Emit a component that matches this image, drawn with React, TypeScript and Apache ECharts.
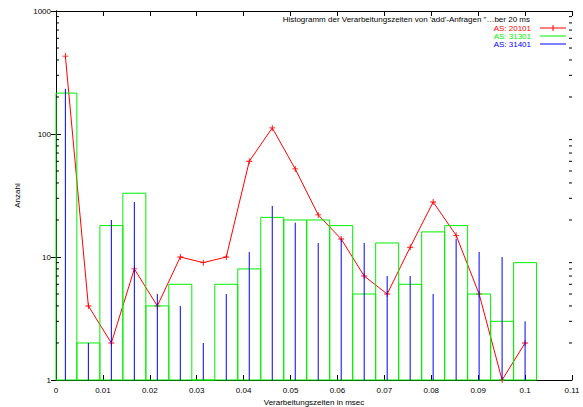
import React, { useEffect, useRef } from "react";
import * as echarts from "echarts";

// bin centres (msec)
const binCenters = [
  0.002, 0.0069, 0.0118, 0.0167, 0.0216, 0.0265, 0.0314, 0.0363, 0.0412, 0.0461,
  0.051, 0.0559, 0.0608, 0.0657, 0.0706, 0.0755, 0.0804, 0.0853, 0.0902, 0.0951, 0.1,
];
const binWidth = 0.0049;

// counts per AS
const as20101 = [430, 4, 2, 8, 4, 10, 9, 10, 60, 112, 52, 22, 14, 7, 5, 12, 28, 15, 5, 1, 2];
const as31301 = [215, 2, 18, 33, 4, 6, 1, 6, 8, 21, 20, 20, 18, 5, 13, 6, 16, 18, 5, 3, 9];
const as31401 = [233, 2, 20, 28, 5, 4, 2, 5, 11, 26, 19, 13, 14, 13, 7, 7, 5, 14, 11, 10, 3];

const seriesNames = ["AS: 20101", "AS: 31301", "AS: 31401"];
const seriesColors = ["#ff0000", "#00f000", "#0000ff"];
const titleText = "Histogramm der Verarbeitungszeiten von 'add'-Anfragen \"\u2026ber 20 ms";
const xAxisTitle = "Verarbeitungszeiten in msec";
const yAxisTitle = "Anzahl";
const yMinorTicks = [2, 3, 4, 5, 6, 7, 8, 9, 20, 30, 40, 50, 60, 70, 80, 90, 200, 300, 400, 500, 600, 700, 800, 900];

const FONT = "'Liberation Sans', Arial, Helvetica, sans-serif";

export default function App() {
  const ref = useRef<HTMLDivElement>(null);
  useEffect(() => {
    const chart = echarts.init(ref.current!, null, { renderer: "svg" });
    const axisLine = { show: true, lineStyle: { color: "#000", width: 1 } };
    const axisTick = { show: true, inside: true, length: 5, lineStyle: { color: "#000", width: 1 } };
    const legendRows = [28, 36, 44];
    const legendGraphics: any[] = [
      {
        type: "text",
        x: 530,
        y: 19,
        style: { text: titleText, fill: "#000", fontSize: 8, fontFamily: FONT, align: "right", verticalAlign: "middle" },
      },
    ];
    seriesNames.forEach((n, i) => {
      const c = seriesColors[i];
      legendGraphics.push({
        type: "text",
        x: 531,
        y: legendRows[i],
        style: { text: n, fill: c, fontSize: 8, fontFamily: FONT, align: "right", verticalAlign: "middle" },
      });
      legendGraphics.push({
        type: "line",
        shape: { x1: 540, y1: legendRows[i], x2: 566, y2: legendRows[i] },
        style: { stroke: c, lineWidth: 1 },
      });
    });
    legendGraphics.push({
      type: "line",
      shape: { x1: 553, y1: legendRows[0] - 3, x2: 553, y2: legendRows[0] + 3 },
      style: { stroke: seriesColors[0], lineWidth: 1 },
    });

    const option: any = {
      animation: false,
      backgroundColor: "#fff",
      textStyle: { fontFamily: FONT },
      grid: { left: 56, right: 11, top: 11, bottom: 27, containLabel: false, outerBoundsMode: "none" },
      xAxis: [
        {
          type: "value",
          min: 0,
          max: 0.11,
          interval: 0.01,
          position: "bottom",
          axisLine,
          axisTick,
          splitLine: { show: false },
          axisLabel: {
            fontSize: 8,
            color: "#000",
            fontFamily: FONT,
            margin: 6,
            formatter: (v: number) => String(+v.toFixed(3)),
          },
          name: xAxisTitle,
          nameLocation: "middle",
          nameGap: 16,
          nameTextStyle: { fontSize: 8, color: "#000", fontFamily: FONT },
        },
        {
          type: "value",
          min: 0,
          max: 0.11,
          interval: 0.01,
          position: "top",
          axisLine,
          axisTick,
          splitLine: { show: false },
          axisLabel: { show: false },
        },
      ],
      yAxis: [
        {
          type: "log",
          logBase: 10,
          min: 1,
          max: 1000,
          axisLine,
          axisTick,
          splitLine: { show: false },
          axisLabel: {
            fontSize: 8,
            color: "#000",
            fontFamily: FONT,
            margin: 5,
            formatter: (v: number) => String(Math.round(v)),
          },
          name: yAxisTitle,
          nameLocation: "middle",
          nameGap: 35,
          nameRotate: 90,
          nameTextStyle: { fontSize: 8, color: "#000", fontFamily: FONT },
        },
        {
          type: "log",
          logBase: 10,
          min: 1,
          max: 1000,
          position: "right",
          axisLine,
          axisTick,
          splitLine: { show: false },
          axisLabel: { show: false },
        },
      ],
      graphic: legendGraphics,
      series: [
        {
          name: seriesNames[0],
          type: "line",
          data: binCenters.map((x, i) => [x, as20101[i]]),
          lineStyle: { color: seriesColors[0], width: 1 },
          itemStyle: { color: seriesColors[0] },
          symbol: "path://M3,0H4V7H3ZM0,3H7V4H0Z",
          symbolSize: 6,
          z: 2,
        },
        {
          name: seriesNames[1],
          type: "custom",
          data: binCenters.map((x, i) => [x, as31301[i]]),
          renderItem: (params: any, api: any) => {
            const x = api.value(0);
            const v = api.value(1);
            const tl = api.coord([Math.max(x - binWidth / 2, 0), v]);
            const br = api.coord([Math.min(x + binWidth / 2, 0.11), 1]);
            return {
              type: "rect",
              shape: { x: tl[0], y: tl[1], width: br[0] - tl[0], height: br[1] - tl[1] },
              style: { fill: "none", stroke: seriesColors[1], lineWidth: 1 },
            };
          },
          z: 3,
        },
        {
          name: seriesNames[2],
          type: "custom",
          data: binCenters.map((x, i) => [x, as31401[i]]),
          renderItem: (params: any, api: any) => {
            const x = api.value(0);
            const v = api.value(1);
            const top = api.coord([x, v]);
            const bot = api.coord([x, 1]);
            return {
              type: "line",
              shape: { x1: top[0], y1: top[1], x2: bot[0], y2: bot[1] },
              style: { stroke: seriesColors[2], lineWidth: 1 },
            };
          },
          z: 4,
        },
        {
          name: "minorTicks",
          type: "custom",
          silent: true,
          data: yMinorTicks.map((v) => [0, v]),
          renderItem: (params: any, api: any) => {
            const v = api.value(1);
            const l = api.coord([0, v]);
            const r = api.coord([0.11, v]);
            return {
              type: "group",
              children: [
                { type: "line", shape: { x1: l[0], y1: l[1], x2: l[0] + 3, y2: l[1] }, style: { stroke: "#000", lineWidth: 1 } },
                { type: "line", shape: { x1: r[0] - 3, y1: r[1], x2: r[0], y2: r[1] }, style: { stroke: "#000", lineWidth: 1 } },
              ],
            };
          },
          z: 5,
        },
      ],
    };
    chart.setOption(option);
    return () => chart.dispose();
  }, []);
  return (
    <div
      ref={ref}
      style={{ position: "fixed", left: 0, top: 0, width: 583, height: 407, background: "#fff" }}
    />
  );
}
